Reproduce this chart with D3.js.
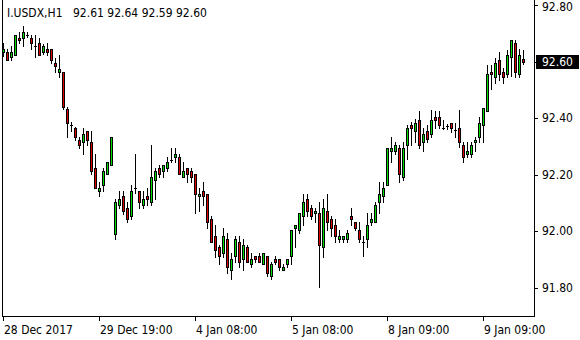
<!DOCTYPE html>
<html>
<head>
<meta charset="utf-8">
<script src="https://cdn.jsdelivr.net/npm/d3@7"></script>
<style>
  body { margin: 0; background: #fff; }
  text { font-family: "DejaVu Sans Condensed", "DejaVu Sans", sans-serif; font-size: 12px; }
</style>
</head>
<body>
<div id="chart"></div>
<script>
var symbol = "I.USDX,H1";
var lastQuote = ["92.61", "92.64", "92.59", "92.60"];

var opens = [92.633,92.633,92.615,92.622,92.682,92.682,92.694,92.682,92.654,92.665,
  92.633,92.644,92.644,92.594,92.562,92.562,92.434,92.375,92.364,92.322,
  92.315,92.354,92.315,92.223,92.142,92.163,92.202,92.234,91.992,92.093,
  92.124,92.082,92.053,92.152,92.143,92.093,92.124,92.103,92.183,92.223,
  92.212,92.223,92.253,92.262,92.262,92.191,92.223,92.212,92.202,92.124,
  92.142,92.131,92.043,91.983,91.944,91.923,91.972,91.863,91.912,91.962,
  91.901,91.944,91.884,91.912,91.912,91.884,91.912,91.841,91.901,91.901,
  91.863,91.884,91.912,92.011,92.004,92.053,92.114,92.082,92.064,92.064,
  91.944,92.071,92.043,92.022,91.972,91.972,91.972,92.053,92.032,92.004,
  91.962,91.972,92.032,92.032,92.103,92.124,92.163,92.283,92.283,92.294,
  92.191,92.304,92.375,92.354,92.393,92.315,92.354,92.343,92.403,92.403,
  92.364,92.371,92.382,92.357,92.364,92.304,92.272,92.272,92.315,92.333,
  92.375,92.424,92.562,92.545,92.605,92.562,92.555,92.615,92.665,92.555,
  92.61];
var highs = [92.667,92.644,92.654,92.693,92.704,92.726,92.704,92.693,92.693,92.682,
  92.661,92.665,92.644,92.612,92.622,92.562,92.441,92.386,92.368,92.333,
  92.364,92.354,92.354,92.272,92.174,92.223,92.244,92.333,92.115,92.143,
  92.143,92.104,92.164,92.274,92.143,92.143,92.152,92.305,92.223,92.234,
  92.234,92.263,92.295,92.295,92.272,92.244,92.223,92.223,92.202,92.152,
  92.174,92.131,92.053,92.022,91.952,92.011,91.993,91.923,91.983,91.983,
  91.972,91.951,91.923,91.912,91.923,91.923,91.912,91.891,91.912,91.901,
  91.884,91.901,92.004,92.022,92.064,92.131,92.131,92.092,92.082,92.103,
  92.114,92.131,92.053,92.043,92.004,91.983,92.004,92.082,92.032,92.032,
  91.983,92.064,92.064,92.103,92.174,92.174,92.294,92.333,92.315,92.304,
  92.315,92.375,92.386,92.396,92.424,92.364,92.375,92.428,92.424,92.424,
  92.393,92.378,92.382,92.382,92.428,92.315,92.315,92.315,92.333,92.403,
  92.435,92.587,92.587,92.612,92.633,92.576,92.640,92.675,92.675,92.644,
  92.64];
var lows = [92.620,92.605,92.605,92.622,92.665,92.654,92.686,92.644,92.615,92.622,
  92.626,92.622,92.594,92.562,92.545,92.434,92.333,92.354,92.322,92.294,
  92.272,92.304,92.202,92.152,92.124,92.142,92.202,92.234,91.972,92.084,
  92.060,92.032,92.043,92.135,92.082,92.084,92.093,92.093,92.114,92.191,
  92.191,92.212,92.244,92.244,92.202,92.191,92.174,92.174,92.064,92.071,
  92.092,92.011,91.962,91.911,91.884,91.911,91.852,91.831,91.891,91.873,
  91.863,91.891,91.873,91.891,91.891,91.884,91.841,91.831,91.884,91.863,
  91.863,91.873,91.884,91.944,91.993,92.022,92.053,92.043,92.032,91.805,
  91.911,92.004,91.983,91.962,91.962,91.962,91.962,92.022,92.004,91.962,
  91.912,91.944,92.022,92.032,92.064,92.103,92.163,92.244,92.272,92.174,
  92.181,92.255,92.304,92.315,92.294,92.283,92.315,92.333,92.364,92.364,
  92.361,92.361,92.350,92.333,92.297,92.244,92.262,92.262,92.283,92.315,
  92.315,92.424,92.502,92.523,92.534,92.523,92.545,92.548,92.545,92.545,
  92.59];
var closes = [92.644,92.605,92.633,92.693,92.675,92.704,92.694,92.665,92.654,92.622,
  92.654,92.633,92.605,92.583,92.573,92.441,92.382,92.375,92.333,92.304,
  92.343,92.322,92.212,92.152,92.152,92.212,92.244,92.333,92.104,92.115,
  92.071,92.043,92.143,92.152,92.104,92.115,92.114,92.191,92.212,92.202,
  92.234,92.244,92.253,92.272,92.202,92.212,92.202,92.191,92.131,92.131,
  92.124,92.032,91.962,91.933,91.912,91.983,91.873,91.901,91.972,91.891,
  91.951,91.891,91.901,91.901,91.891,91.923,91.852,91.884,91.891,91.873,
  91.873,91.901,92.004,92.022,92.064,92.103,92.071,92.053,92.071,91.951,
  92.082,92.032,92.011,91.983,91.983,91.983,91.993,92.043,92.011,91.972,
  91.962,92.022,92.043,92.092,92.131,92.152,92.294,92.294,92.304,92.202,
  92.294,92.364,92.364,92.382,92.304,92.343,92.326,92.393,92.393,92.375,
  92.364,92.371,92.364,92.357,92.315,92.262,92.283,92.304,92.322,92.382,
  92.435,92.555,92.555,92.594,92.555,92.545,92.622,92.675,92.562,92.622,
  92.60];

var priceTicks = [91.80, 92.00, 92.20, 92.40, 92.60, 92.80];
var timeTickBars = [0, 24, 48, 72, 96, 120];
var timeTickLabels = ["28 Dec 2017", "29 Dec 19:00", "4 Jan 08:00", "5 Jan 08:00", "8 Jan 09:00", "9 Jan 09:00"];

(function() {
    var width = 580,
    height = 340;
    var plotLeft = 2, plotRight = 534, plotBottom = 316;

    var svg = d3.select("#chart")
        .append("svg")
        .attr("width", width)
        .attr("height", height)
        .attr("shape-rendering", "crispEdges")

    var data = opens.map(function(o, i) {
        return {i: i, o: o, h: highs[i], l: lows[i], c: closes[i]};
    });

    var x = d3.scaleLinear().domain([0, 130]).range([3, 523]);
    var y = d3.scaleLinear().domain([91.80, 92.80]).range([288, 5]);

    function px(v) { return Math.round(v) + 0.5; }

    // frame
    svg.append("line")
        .attr("x1", plotLeft + 0.5).attr("x2", plotLeft + 0.5)
        .attr("y1", 0).attr("y2", plotBottom + 1)
        .attr("stroke", "#000")
    svg.append("line")
        .attr("x1", plotRight + 0.5).attr("x2", plotRight + 0.5)
        .attr("y1", 0).attr("y2", plotBottom + 1)
        .attr("stroke", "#000")
    svg.append("line")
        .attr("x1", plotLeft).attr("x2", plotRight + 1)
        .attr("y1", plotBottom + 0.5).attr("y2", plotBottom + 0.5)
        .attr("stroke", "#000")

    // price axis
    var yAxis = svg.append("g");
    yAxis.selectAll("line")
        .data(priceTicks)
        .enter().append("line")
        .attr("x1", plotRight + 1).attr("x2", plotRight + 4)
        .attr("y1", function(d) { return px(y(d)); })
        .attr("y2", function(d) { return px(y(d)); })
        .attr("stroke", "#000")
    yAxis.selectAll("text")
        .data(priceTicks)
        .enter().append("text")
        .attr("x", 542)
        .attr("y", function(d) { return Math.max(11, Math.round(y(d)) + 4); })
        .attr("fill", "#000")
        .text(function(d) { return d.toFixed(2); })

    // time axis
    var xAxis = svg.append("g");
    xAxis.selectAll("line")
        .data(timeTickBars)
        .enter().append("line")
        .attr("x1", function(d) { return Math.round(x(d)) + 0.5; })
        .attr("x2", function(d) { return Math.round(x(d)) + 0.5; })
        .attr("y1", plotBottom + 1).attr("y2", plotBottom + 5)
        .attr("stroke", "#000")
    xAxis.selectAll("text")
        .data(timeTickBars)
        .enter().append("text")
        .attr("x", function(d) { return Math.round(x(d)) + 1; })
        .attr("y", 334)
        .attr("fill", "#000")
        .text(function(d, i) { return timeTickLabels[i]; })

    // candles
    var candles = svg.append("g").selectAll("g")
        .data(data)
        .enter().append("g")

    candles.append("line")
        .attr("x1", function(d) { return Math.round(x(d.i)) + 0.5; })
        .attr("x2", function(d) { return Math.round(x(d.i)) + 0.5; })
        .attr("y1", function(d) { return Math.round(y(d.h)); })
        .attr("y2", function(d) { return Math.round(y(d.l)) + 1; })
        .attr("stroke", "#000")

    candles.each(function(d) {
        var g = d3.select(this);
        var cx = Math.round(x(d.i));
        var top = Math.round(y(Math.max(d.o, d.c)));
        var bot = Math.round(y(Math.min(d.o, d.c)));
        if (bot - top < 1) {
            g.append("line")
                .attr("x1", cx - 1).attr("x2", cx + 2)
                .attr("y1", top + 0.5).attr("y2", top + 0.5)
                .attr("stroke", "#000")
        } else {
            g.append("rect")
                .attr("x", cx - 0.5)
                .attr("y", top + 0.5)
                .attr("width", 2)
                .attr("height", bot - top)
                .attr("fill", d.c >= d.o ? "#00dd00" : "#dd0000")
                .attr("stroke", "#000")
        }
    });

    // header
    svg.append("text")
        .attr("x", 7).attr("y", 17)
        .attr("fill", "#000")
        .text(symbol)
    svg.append("text")
        .attr("x", 73).attr("y", 17)
        .attr("fill", "#000")
        .text(lastQuote.join(" "))

    // last price label
    var last = closes[closes.length - 1];
    svg.append("rect")
        .attr("x", plotRight + 2)
        .attr("y", Math.round(y(last)) - 7)
        .attr("width", 43)
        .attr("height", 14)
        .attr("fill", "#000")
    svg.append("text")
        .attr("x", 542)
        .attr("y", Math.round(y(last)) + 4)
        .attr("fill", "#fff")
        .text(last.toFixed(2))

})();
</script>
</body>
</html>
